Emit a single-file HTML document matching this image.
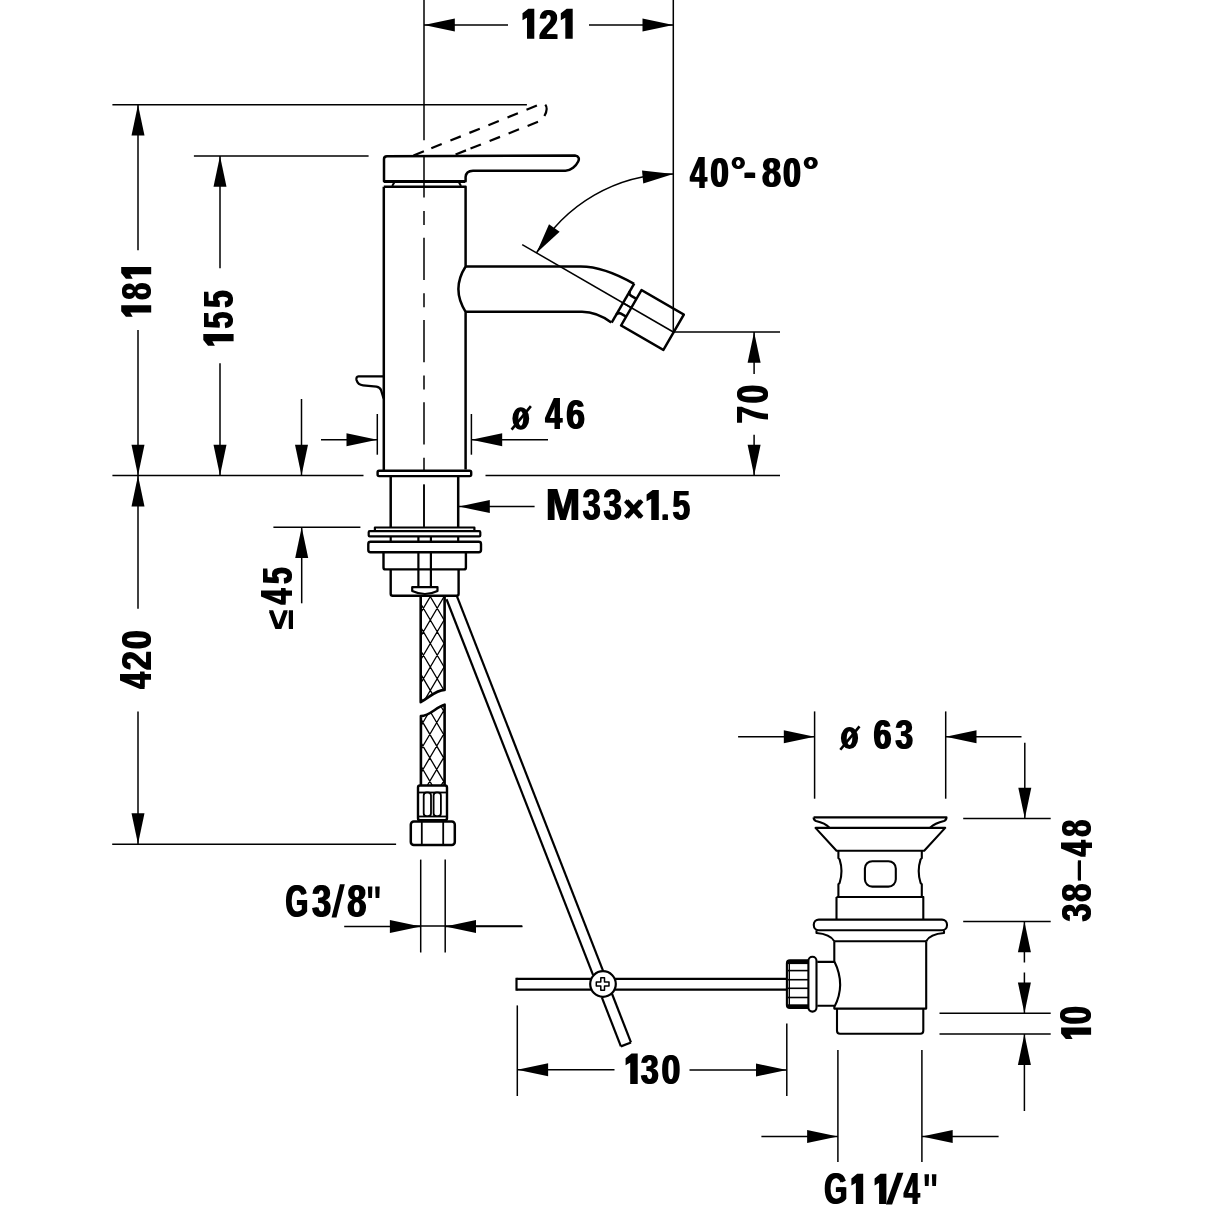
<!DOCTYPE html>
<html><head><meta charset="utf-8"><style>
html,body{margin:0;padding:0;background:#fff;}
svg{display:block;}
text{font-family:"Liberation Sans",sans-serif;font-weight:bold;fill:#000;stroke:none;}
</style></head><body>
<svg width="1214" height="1214" viewBox="0 0 1214 1214" stroke="#000" stroke-linecap="butt" stroke-linejoin="round">
<rect width="1214" height="1214" fill="#fff" stroke="none"/>
<line x1="424" y1="0" x2="424" y2="140.3" stroke-width="1.5"/>
<line x1="673.3" y1="0" x2="673.3" y2="332" stroke-width="1.5"/>
<line x1="424" y1="25" x2="508" y2="25" stroke-width="1.5"/>
<polygon points="424,25 454.8,18.5 454.8,31.5" stroke="none" fill="#000"/>
<line x1="589" y1="25" x2="673.3" y2="25" stroke-width="1.5"/>
<polygon points="673.3,25 642.5,31.5 642.5,18.5" stroke="none" fill="#000"/>
<polygon points="528.6,9.45 533.5,9.45 533.5,37.95 527.79,37.95 527.79,16.29 523.3,18.8 523.3,13.75" fill="#000" stroke="#000" stroke-width="1.6" stroke-linejoin="miter"/>
<polygon points="566.96,9.45 571.9,9.45 571.9,37.95 566.13,37.95 566.13,16.29 561.6,18.8 561.6,13.75" fill="#000" stroke="#000" stroke-width="1.6" stroke-linejoin="miter"/>
<line x1="112.4" y1="104.7" x2="526.9" y2="104.7" stroke-width="1.5"/>
<line x1="193.9" y1="155.9" x2="368.6" y2="155.9" stroke-width="1.5"/>
<line x1="138" y1="104.7" x2="138" y2="250.3" stroke-width="1.5"/>
<polygon points="138,104.7 144.5,135.5 131.5,135.5" stroke="none" fill="#000"/>
<line x1="138" y1="330" x2="138" y2="475.6" stroke-width="1.5"/>
<polygon points="138,475.6 131.5,444.8 144.5,444.8" stroke="none" fill="#000"/>
<polygon points="122,310.85 122,306.1 150.4,306.1 150.4,311.64 128.82,311.64 131.32,316 126.29,316" fill="#000" stroke="#000" stroke-width="1.6" stroke-linejoin="miter"/>
<polygon points="122,272.65 122,267.8 150.4,267.8 150.4,273.46 128.82,273.46 131.32,277.9 126.29,277.9" fill="#000" stroke="#000" stroke-width="1.6" stroke-linejoin="miter"/>
<line x1="220" y1="155.9" x2="220" y2="268.3" stroke-width="1.5"/>
<polygon points="220,155.9 226.5,186.7 213.5,186.7" stroke="none" fill="#000"/>
<line x1="220" y1="363.2" x2="220" y2="475.6" stroke-width="1.5"/>
<polygon points="220,475.6 213.5,444.8 226.5,444.8" stroke="none" fill="#000"/>
<polygon points="204.1,339.7 204.1,334.8 232.8,334.8 232.8,340.51 210.99,340.51 213.51,345 208.43,345" fill="#000" stroke="#000" stroke-width="1.6" stroke-linejoin="miter"/>
<line x1="301.5" y1="399" x2="301.5" y2="475.6" stroke-width="1.5"/>
<polygon points="301.5,475.6 295,444.8 308,444.8" stroke="none" fill="#000"/>
<line x1="112.4" y1="475.6" x2="363.5" y2="475.6" stroke-width="1.5"/>
<line x1="485.5" y1="475.6" x2="780" y2="475.6" stroke-width="1.5"/>
<line x1="138" y1="475.6" x2="138" y2="608.7" stroke-width="1.5"/>
<polygon points="138,475.6 144.5,506.4 131.5,506.4" stroke="none" fill="#000"/>
<line x1="138" y1="711.5" x2="138" y2="844.1" stroke-width="1.5"/>
<polygon points="138,844.1 131.5,813.3 144.5,813.3" stroke="none" fill="#000"/>
<line x1="112.2" y1="844.2" x2="396.1" y2="844.2" stroke-width="1.5"/>
<line x1="273.4" y1="527.2" x2="360.4" y2="527.2" stroke-width="1.5"/>
<line x1="301.7" y1="527.2" x2="301.7" y2="603.3" stroke-width="1.5"/>
<polygon points="301.7,527.2 308.2,558 295.2,558" stroke="none" fill="#000"/>
<line x1="377.3" y1="414" x2="377.3" y2="454.7" stroke-width="1.5"/>
<line x1="471.4" y1="414" x2="471.4" y2="454.7" stroke-width="1.5"/>
<line x1="321" y1="439.8" x2="377.3" y2="439.8" stroke-width="1.5"/>
<polygon points="377.3,439.8 346.5,446.3 346.5,433.3" stroke="none" fill="#000"/>
<line x1="471.4" y1="439.8" x2="548" y2="439.8" stroke-width="1.5"/>
<polygon points="471.4,439.8 502.2,433.3 502.2,446.3" stroke="none" fill="#000"/>
<path d="M512.4,418.5 a8.4,11.2 0 1 0 16.8,0 a8.4,11.2 0 1 0 -16.8,0 Z M518.4,418.5 a2.4,7.3 0 1 0 4.8,0 a2.4,7.3 0 1 0 -4.8,0 Z" fill="#000" fill-rule="evenodd" stroke="none"/>
<line x1="511.6" y1="429.7" x2="530.9" y2="406.2" stroke-width="2.6"/>
<line x1="459" y1="506.6" x2="534.6" y2="506.6" stroke-width="1.5"/>
<polygon points="459,506.6 489.8,500.1 489.8,513.1" stroke="none" fill="#000"/>
<polygon points="652.91,490.7 658,490.7 658,519.1 652.06,519.1 652.06,497.52 647.4,500.02 647.4,494.99" fill="#000" stroke="#000" stroke-width="1.6" stroke-linejoin="miter"/>
<line x1="673.3" y1="332" x2="780" y2="332" stroke-width="1.5"/>
<line x1="754.1" y1="332" x2="754.1" y2="374" stroke-width="1.5"/>
<polygon points="754.1,332 760.6,362.8 747.6,362.8" stroke="none" fill="#000"/>
<line x1="754.1" y1="434.7" x2="754.1" y2="475.5" stroke-width="1.5"/>
<polygon points="754.1,475.5 747.6,444.7 760.6,444.7" stroke="none" fill="#000"/>
<path d="M536.47,253 A158,158 0 0 1 673.3,174" fill="none" stroke-width="1.5"/>
<polygon points="673.3,174 643.25,183.39 642.02,170.45" stroke="none" fill="#000"/>
<polygon points="536.47,253 549.03,224.14 559.62,231.68" stroke="none" fill="#000"/>
<line x1="522.2" y1="244.6" x2="673.3" y2="332" stroke-width="1.5"/>
<g stroke-width="2.2" fill="none">
<line x1="413.5" y1="155.5" x2="423.9" y2="151.29"/>
<line x1="431.3" y1="148.3" x2="441.7" y2="144.09"/>
<line x1="450.4" y1="140.58" x2="460.8" y2="136.37"/>
<line x1="469.4" y1="132.89" x2="479.8" y2="128.69"/>
<line x1="488.4" y1="125.21" x2="498.8" y2="121"/>
<line x1="507.5" y1="117.48" x2="517.9" y2="113.28"/>
<line x1="526.5" y1="109.8" x2="536.9" y2="105.59"/>
<line x1="455.6" y1="154.52" x2="466" y2="150.39"/>
<line x1="470.5" y1="148.6" x2="480.9" y2="144.47"/>
<line x1="489.6" y1="141.01" x2="500" y2="136.87"/>
<line x1="508.6" y1="133.45" x2="519" y2="129.32"/>
<line x1="527.6" y1="125.9" x2="538" y2="121.77"/>
<path d="M545.3,104.6 Q548.6,108.5 544.4,116"/>
</g>
<path d="M384,181.3 L384,159 Q384,156.3 387,156.2 L575,155.5 C579,156 579.5,159 578.2,161.5 C576,166 571,170.7 565.5,170.7 L473,170.8 Q466,171 465.6,177 L465.6,181.3 Z" stroke-width="2.5" fill="none" />
<line x1="384" y1="181.6" x2="465" y2="181.6" stroke-width="2.8"/>
<path d="M394.5,182 L392.2,186 M458.8,182 L461,186" stroke-width="2" fill="none" />
<path d="M383.8,186.7 L465.6,186.7 L465.6,266.5 Q451.2,289 465.6,311.8 L465.6,469.5 M383.8,186.7 L383.8,470" stroke-width="2.5" fill="none" />
<path d="M383.7,376.3 L358.5,376.3 Q356,376.5 356.5,380 Q358,385 363,385.3 L376.5,386.7 Q380,387.5 381,390 L383.6,398.5" stroke-width="2.3" fill="none" />
<path d="M465.6,266.5 L580.7,266.5 Q603.9,266.5 634.1,283.9" stroke-width="2.5" fill="none" />
<path d="M465.6,311.8 L582,311.8 Q597,311.8 611.3,322.6" stroke-width="2.5" fill="none" />
<g transform="translate(673.3,332) rotate(30)" fill="none" stroke-width="2.5">
<line x1="-58" y1="-22.3" x2="-58" y2="22.8"/>
<rect x="-48.5" y="-20.4" width="48.9" height="40.9"/>
<path d="M-58,-13.3 Q-57.5,-10.3 -54.5,-10.3 L-48.5,-10.3 M-58,13.3 Q-57.5,10.3 -54.5,10.3 L-48.5,10.3" />
<line x1="-58" y1="0" x2="-48.5" y2="0" stroke-width="1.8"/>
</g>
<line x1="424" y1="155.4" x2="424" y2="527.2" stroke-width="1.5" stroke-dasharray="42.2 13.3 14 12.8"/>
<rect x="377.6" y="470.7" width="93.6" height="5.4" rx="1.5" fill="#fff" stroke-width="2.4"/>
<path d="M390.7,477 L390.7,527.4 M458.2,477 L458.2,527.4" stroke-width="2.5" fill="none" />
<line x1="424" y1="484.4" x2="424" y2="527.2" stroke-width="1.5"/>
<rect x="374.9" y="527.5" width="99.5" height="3.7" fill="#fff" stroke-width="2.2"/>
<rect x="368.7" y="531.2" width="111.6" height="5.2" rx="1" fill="#fff" stroke-width="2.2"/>
<path d="M390.7,536.4 L390.7,541.7 M458.2,536.4 L458.2,541.7 M418.4,536.4 L418.4,541.7 M430.9,536.4 L430.9,541.7" stroke-width="2.2" fill="none" />
<rect x="368.3" y="541.7" width="112.7" height="10.5" rx="2.2" fill="#fff" stroke-width="2.4"/>
<path d="M383.5,552.2 L383.5,567.4 Q383.5,569.4 385.5,569.4 L463.9,569.4 Q465.9,569.4 465.9,567.4 L465.9,552.2" stroke-width="2.4" fill="none" />
<path d="M390.7,569.4 L390.7,593.7 Q390.7,595.7 392.7,595.7 L456.6,595.7 Q458.6,595.7 458.6,593.7 L458.6,569.4" stroke-width="2.4" fill="none" />
<path d="M418.4,552.2 L418.4,587.2 M430.9,552.2 L430.9,587.2" stroke-width="2.2" fill="none" />
<path d="M412.2,587.2 L437.5,587.2 L437.5,591 Q425,597 412.2,591 Z" stroke-width="2.2" fill="#fff" />
<defs><clipPath id="hu"><path d="M420.7,596 L444.6,596 L444.6,689.9 C436,690 430,697 420.9,702.2 Z"/></clipPath><clipPath id="hl"><path d="M420.9,716.1 C430,716 436,707 444.6,704.7 L444.6,785.5 L420.9,785.5 Z"/></clipPath></defs>
<path clip-path="url(#hu)" d="M150.44,590 L221.02,710 M171.96,590 L101.38,710 M164.24,590 L234.82,710 M185.76,590 L115.18,710 M178.04,590 L248.62,710 M199.56,590 L128.98,710 M191.84,590 L262.42,710 M213.36,590 L142.78,710 M205.64,590 L276.22,710 M227.16,590 L156.58,710 M219.44,590 L290.02,710 M240.96,590 L170.38,710 M233.24,590 L303.82,710 M254.76,590 L184.18,710 M247.04,590 L317.62,710 M268.56,590 L197.98,710 M260.84,590 L331.42,710 M282.36,590 L211.78,710 M274.64,590 L345.22,710 M296.16,590 L225.58,710 M288.44,590 L359.02,710 M309.96,590 L239.38,710 M302.24,590 L372.82,710 M323.76,590 L253.18,710 M316.04,590 L386.62,710 M337.56,590 L266.98,710 M329.84,590 L400.42,710 M351.36,590 L280.78,710 M343.64,590 L414.22,710 M365.16,590 L294.58,710 M357.44,590 L428.02,710 M378.96,590 L308.38,710 M371.24,590 L441.82,710 M392.76,590 L322.18,710 M385.04,590 L455.62,710 M406.56,590 L335.98,710 M398.84,590 L469.42,710 M420.36,590 L349.78,710 M412.64,590 L483.22,710 M434.16,590 L363.58,710 M426.44,590 L497.02,710 M447.96,590 L377.38,710 M440.24,590 L510.82,710 M461.76,590 L391.18,710 M454.04,590 L524.62,710 M475.56,590 L404.98,710 M467.84,590 L538.42,710 M489.36,590 L418.78,710 M481.64,590 L552.22,710 M503.16,590 L432.58,710 M495.44,590 L566.02,710 M516.96,590 L446.38,710 M509.24,590 L579.82,710 M530.76,590 L460.18,710 M523.04,590 L593.62,710 M544.56,590 L473.98,710 M536.84,590 L607.42,710 M558.36,590 L487.78,710 M550.64,590 L621.22,710 M572.16,590 L501.58,710 M564.44,590 L635.02,710 M585.96,590 L515.38,710 M578.24,590 L648.82,710 M599.76,590 L529.18,710 M592.04,590 L662.62,710 M613.56,590 L542.98,710 M605.84,590 L676.42,710 M627.36,590 L556.78,710 M619.64,590 L690.22,710 M641.16,590 L570.58,710 M633.44,590 L704.02,710 M654.96,590 L584.38,710 M647.24,590 L717.82,710 M668.76,590 L598.18,710 M661.04,590 L731.62,710 M682.56,590 L611.98,710 M674.84,590 L745.42,710 M696.36,590 L625.78,710 M688.64,590 L759.22,710 M710.16,590 L639.58,710" stroke-width="1.3" fill="none"/>
<path clip-path="url(#hl)" d="M133.62,700 L186.56,790 M173.98,700 L121.04,790 M147.42,700 L200.36,790 M187.78,700 L134.84,790 M161.22,700 L214.16,790 M201.58,700 L148.64,790 M175.02,700 L227.96,790 M215.38,700 L162.44,790 M188.82,700 L241.76,790 M229.18,700 L176.24,790 M202.62,700 L255.56,790 M242.98,700 L190.04,790 M216.42,700 L269.36,790 M256.78,700 L203.84,790 M230.22,700 L283.16,790 M270.58,700 L217.64,790 M244.02,700 L296.96,790 M284.38,700 L231.44,790 M257.82,700 L310.76,790 M298.18,700 L245.24,790 M271.62,700 L324.56,790 M311.98,700 L259.04,790 M285.42,700 L338.36,790 M325.78,700 L272.84,790 M299.22,700 L352.16,790 M339.58,700 L286.64,790 M313.02,700 L365.96,790 M353.38,700 L300.44,790 M326.82,700 L379.76,790 M367.18,700 L314.24,790 M340.62,700 L393.56,790 M380.98,700 L328.04,790 M354.42,700 L407.36,790 M394.78,700 L341.84,790 M368.22,700 L421.16,790 M408.58,700 L355.64,790 M382.02,700 L434.96,790 M422.38,700 L369.44,790 M395.82,700 L448.76,790 M436.18,700 L383.24,790 M409.62,700 L462.56,790 M449.98,700 L397.04,790 M423.42,700 L476.36,790 M463.78,700 L410.84,790 M437.22,700 L490.16,790 M477.58,700 L424.64,790 M451.02,700 L503.96,790 M491.38,700 L438.44,790 M464.82,700 L517.76,790 M505.18,700 L452.24,790 M478.62,700 L531.56,790 M518.98,700 L466.04,790 M492.42,700 L545.36,790 M532.78,700 L479.84,790 M506.22,700 L559.16,790 M546.58,700 L493.64,790 M520.02,700 L572.96,790 M560.38,700 L507.44,790 M533.82,700 L586.76,790 M574.18,700 L521.24,790 M547.62,700 L600.56,790 M587.98,700 L535.04,790 M561.42,700 L614.36,790 M601.78,700 L548.84,790 M575.22,700 L628.16,790 M615.58,700 L562.64,790 M589.02,700 L641.96,790 M629.38,700 L576.44,790 M602.82,700 L655.76,790 M643.18,700 L590.24,790 M616.62,700 L669.56,790 M656.98,700 L604.04,790 M630.42,700 L683.36,790 M670.78,700 L617.84,790 M644.22,700 L697.16,790 M684.58,700 L631.64,790 M658.02,700 L710.96,790 M698.38,700 L645.44,790 M671.82,700 L724.76,790 M712.18,700 L659.24,790" stroke-width="1.3" fill="none"/>
<path d="M420.7,596 L420.7,702.2 C430,697 436,690 444.6,689.9 L444.6,596" stroke-width="2.6" fill="none" />
<path d="M420.9,785.5 L420.9,716.1 C430,716 436,707 444.6,704.7 L444.6,785.5" stroke-width="2.6" fill="none" />
<rect x="418" y="785.5" width="29" height="34.7" rx="2" fill="#fff" stroke-width="2.4"/>
<line x1="418.5" y1="792.5" x2="446.5" y2="792.5" stroke-width="1.8"/>
<line x1="418.5" y1="816.5" x2="446.5" y2="816.5" stroke-width="1.8"/>
<rect x="423.7" y="792.5" width="7.3" height="23.7" rx="3" fill="#fff" stroke-width="1.8"/>
<rect x="433.6" y="792.5" width="7.3" height="23.7" rx="3" fill="#fff" stroke-width="1.8"/>
<rect x="410.8" y="821.5" width="44" height="23.5" rx="3" fill="#fff" stroke-width="2.5"/>
<line x1="421.8" y1="821.5" x2="421.8" y2="845" stroke-width="1.8"/>
<line x1="443.2" y1="821.5" x2="443.2" y2="845" stroke-width="1.8"/>
<line x1="420.7" y1="859.6" x2="420.7" y2="952.5" stroke-width="1.5"/>
<line x1="445.2" y1="859.6" x2="445.2" y2="952.5" stroke-width="1.5"/>
<line x1="344.2" y1="926.5" x2="420.7" y2="926.5" stroke-width="1.5"/>
<polygon points="420.7,926.5 389.9,933 389.9,920" stroke="none" fill="#000"/>
<line x1="445.2" y1="926.5" x2="522.5" y2="926.5" stroke-width="1.5"/>
<polygon points="445.2,926.5 476,920 476,933" stroke="none" fill="#000"/>
<polygon points="331.6,917.4 336.48,917.4 344.8,884.3 339.92,884.3" fill="#000" stroke="none"/>
<polygon points="367.9,886.6 372.38,886.6 371.98,897.9 368.3,897.9" fill="#000" stroke="none"/>
<polygon points="375.22,886.6 379.7,886.6 379.3,897.9 375.62,897.9" fill="#000" stroke="none"/>
<line x1="456.59" y1="595.34" x2="603.17" y2="971.16" stroke-width="2.2"/>
<line x1="611.89" y1="993.52" x2="630.97" y2="1042.43" stroke-width="2.2"/>
<line x1="446.52" y1="599.26" x2="593.11" y2="975.08" stroke-width="2.2"/>
<line x1="601.83" y1="997.44" x2="620.91" y2="1046.36" stroke-width="2.2"/>
<line x1="630.97" y1="1042.43" x2="620.91" y2="1046.36" stroke-width="2.2"/>
<line x1="516.5" y1="978.9" x2="787" y2="978.9" stroke-width="2.2"/>
<line x1="516.5" y1="989.6" x2="787" y2="989.6" stroke-width="2.2"/>
<line x1="516.5" y1="977.8" x2="516.5" y2="990.7" stroke-width="2.2"/>
<circle cx="603" cy="984" r="12.8" fill="#fff" stroke-width="2.2"/>
<path d="M600.8,977.8 L604.5,977.8 L604.5,982 L609,982 L609,986 L604.5,986 L604.5,990.2 L600.8,990.2 L600.8,986 L596.3,986 L596.3,982 L600.8,982 Z" fill="none" stroke-width="1.5"/>
<line x1="517.3" y1="1005.4" x2="517.3" y2="1096" stroke-width="1.5"/>
<line x1="517.3" y1="1069.7" x2="614.5" y2="1069.7" stroke-width="1.5"/>
<polygon points="517.3,1069.7 548.1,1063.2 548.1,1076.2" stroke="none" fill="#000"/>
<line x1="689.5" y1="1070" x2="786.8" y2="1070" stroke-width="1.5"/>
<polygon points="786.8,1070 756,1076.5 756,1063.5" stroke="none" fill="#000"/>
<line x1="786.8" y1="1023.6" x2="786.8" y2="1096" stroke-width="1.5"/>
<polygon points="631.86,1054.3 636.9,1054.3 636.9,1083.2 631.02,1083.2 631.02,1061.24 626.4,1063.78 626.4,1058.66" fill="#000" stroke="#000" stroke-width="1.6" stroke-linejoin="miter"/>
<line x1="396" y1="926" x2="522.2" y2="926" stroke-width="1.5"/>
<g fill="none" stroke-width="2.1">
<path d="M813.6,817.4 L946.5,817.4 Q946.5,820 944,821 Q935,823 929.8,827.9 M813.6,817.4 Q813.6,820 816,821 Q825,823 829.7,827.9"/>
<path d="M815.5,827.9 L945.2,827.9 L924.2,850.7 L836.5,850.7 Z"/>
<path d="M838.4,850.7 L838.4,858.1 L839.6,859.4 Q843.4,871.3 839.6,883 L838.4,884.2 L838.4,897 M921.8,850.7 L921.8,858.1 L920.6,859.4 Q916.8,871.3 920.6,883 L921.8,884.2 L921.8,897"/>
<rect x="864.9" y="861.2" width="30.9" height="25.4" rx="7.4"/>
<path d="M836.5,897 L924.2,897 M836.5,897 L836.5,919.6 M923.3,897 L923.3,919.6"/>
<rect x="813.8" y="919.6" width="133.2" height="10.6" rx="5" fill="#fff"/>
<path d="M816.5,930.2 L816.5,933 Q830,934 834.3,941.2 M944,930.2 L944,933 Q930,934 926.2,941.2"/>
<path d="M834.3,941.2 L926.2,941.2"/>
<path d="M834.3,941.2 L834.3,961.2 Q846,984.9 834.3,1007.1 L834.3,1008.6 L926.2,1008.6 L926.2,941.2"/>
<path d="M837,1008.6 L837,1030.8 Q837,1033.8 840,1033.8 L920.3,1033.8 Q923.3,1033.8 923.3,1030.8 L923.3,1008.6"/>
<path d="M834.3,961.9 L817.3,961.9 M834.3,1005.7 L817.3,1005.7"/>
<rect x="808.4" y="956.7" width="8.1" height="54.9" rx="4" fill="#fff"/>
<path d="M808.4,960.4 L789.9,960.4 Q786.9,960.4 786.9,963.4 L786.9,1004.9 Q786.9,1007.9 789.9,1007.9 L808.4,1007.9"/>
</g>
<line x1="788" y1="970.6" x2="808.4" y2="970.6" stroke-width="1.6"/>
<line x1="788" y1="979.7" x2="808.4" y2="979.7" stroke-width="1.6"/>
<line x1="788" y1="988.3" x2="808.4" y2="988.3" stroke-width="1.6"/>
<line x1="788" y1="997.5" x2="808.4" y2="997.5" stroke-width="1.6"/>
<rect x="787.5" y="960.5" width="20.9" height="3.6" fill="#000" stroke="none"/>
<rect x="787.5" y="1004.3" width="20.9" height="3.6" fill="#000" stroke="none"/>
<line x1="789.3" y1="961" x2="789.3" y2="1007" stroke-width="1.4"/>
<line x1="814.6" y1="711.4" x2="814.6" y2="798.7" stroke-width="1.5"/>
<line x1="945.7" y1="711.4" x2="945.7" y2="798.7" stroke-width="1.5"/>
<line x1="738.1" y1="736.8" x2="814.6" y2="736.8" stroke-width="1.5"/>
<polygon points="814.6,736.8 783.8,743.3 783.8,730.3" stroke="none" fill="#000"/>
<line x1="945.7" y1="736.8" x2="1021.5" y2="736.8" stroke-width="1.5"/>
<polygon points="945.7,736.8 976.5,730.3 976.5,743.3" stroke="none" fill="#000"/>
<path d="M840.9,738.1 a8.6,11 0 1 0 17.2,0 a8.6,11 0 1 0 -17.2,0 Z M846.7,738.1 a2.8,6.9 0 1 0 5.6,0 a2.8,6.9 0 1 0 -5.6,0 Z" fill="#000" fill-rule="evenodd" stroke="none"/>
<line x1="840.3" y1="749.8" x2="859.5" y2="726.4" stroke-width="2.6"/>
<line x1="1024.8" y1="742.7" x2="1024.8" y2="818.5" stroke-width="1.5"/>
<polygon points="1024.8,818.5 1018.3,787.7 1031.3,787.7" stroke="none" fill="#000"/>
<line x1="963.2" y1="818.5" x2="1050.7" y2="818.5" stroke-width="1.5"/>
<line x1="963.2" y1="921.4" x2="1050.7" y2="921.4" stroke-width="1.5"/>
<line x1="1024.4" y1="921.4" x2="1024.4" y2="962.5" stroke-width="1.5"/>
<polygon points="1024.4,921.4 1030.9,952.2 1017.9,952.2" stroke="none" fill="#000"/>
<line x1="1024.4" y1="972.5" x2="1024.4" y2="1013.3" stroke-width="1.5"/>
<polygon points="1024.4,1013.3 1017.9,982.5 1030.9,982.5" stroke="none" fill="#000"/>
<line x1="939.5" y1="1013.3" x2="1050.7" y2="1013.3" stroke-width="1.5"/>
<line x1="939.5" y1="1034.1" x2="1050.7" y2="1034.1" stroke-width="1.5"/>
<line x1="1024.4" y1="1034.1" x2="1024.4" y2="1111" stroke-width="1.5"/>
<polygon points="1024.4,1034.1 1030.9,1064.9 1017.9,1064.9" stroke="none" fill="#000"/>
<polygon points="1061.9,1033.15 1061.9,1028.4 1090.3,1028.4 1090.3,1033.94 1068.72,1033.94 1071.22,1038.3 1066.19,1038.3" fill="#000" stroke="#000" stroke-width="1.6" stroke-linejoin="miter"/>
<line x1="837.9" y1="1049.9" x2="837.9" y2="1162" stroke-width="1.5"/>
<line x1="921.9" y1="1049.9" x2="921.9" y2="1162" stroke-width="1.5"/>
<line x1="761.4" y1="1136.6" x2="837.9" y2="1136.6" stroke-width="1.5"/>
<polygon points="837.9,1136.6 807.1,1143.1 807.1,1130.1" stroke="none" fill="#000"/>
<line x1="921.9" y1="1136.6" x2="998.6" y2="1136.6" stroke-width="1.5"/>
<polygon points="921.9,1136.6 952.7,1130.1 952.7,1143.1" stroke="none" fill="#000"/>
<polygon points="857.5,1174.6 862.4,1174.6 862.4,1203.3 856.69,1203.3 856.69,1181.49 852.2,1184.01 852.2,1178.93" fill="#000" stroke="#000" stroke-width="1.6" stroke-linejoin="miter"/>
<polygon points="880.7,1174.6 885.6,1174.6 885.6,1203.3 879.89,1203.3 879.89,1181.49 875.4,1184.01 875.4,1178.93" fill="#000" stroke="#000" stroke-width="1.6" stroke-linejoin="miter"/>
<polygon points="885.9,1204.6 892.1,1204.6 903.4,1172.7 897.2,1172.7" fill="#000" stroke="none"/>
<polygon points="924.5,1174.3 929.02,1174.3 928.62,1186.1 924.9,1186.1" fill="#000" stroke="none"/>
<polygon points="931.88,1174.3 936.4,1174.3 936,1186.1 932.28,1186.1" fill="#000" stroke="none"/>
<defs><filter id="gs" x="0" y="0" width="1214" height="1214" filterUnits="userSpaceOnUse"><feOffset dx="0" dy="0"/></filter></defs>
<g filter="url(#gs)"><text transform="matrix(0.33958,0,0,0.43000,538.311,38.750)" font-size="100">2</text>
<text transform="matrix(0.33958,0,0,0.43000,539.911,38.750)" font-size="100">2</text>
<text transform="matrix(0,-0.30303,0.42254,0,150.777,298.909)" font-size="100">8</text>
<text transform="matrix(0,-0.30303,0.42254,0,150.777,300.509)" font-size="100">8</text>
<text transform="matrix(0,-0.30000,0.43286,0,233.167,327.700)" font-size="100">5</text>
<text transform="matrix(0,-0.30000,0.43286,0,233.167,329.300)" font-size="100">5</text>
<text transform="matrix(0,-0.30600,0.43286,0,233.167,306.818)" font-size="100">5</text>
<text transform="matrix(0,-0.30600,0.43286,0,233.167,308.418)" font-size="100">5</text>
<text transform="matrix(0,-0.29720,0.43913,0,151.400,687.846)" font-size="100">4</text>
<text transform="matrix(0,-0.29720,0.43913,0,151.400,689.446)" font-size="100">4</text>
<text transform="matrix(0,-0.33958,0.43286,0,151.400,669.289)" font-size="100">2</text>
<text transform="matrix(0,-0.33958,0.43286,0,151.400,670.889)" font-size="100">2</text>
<text transform="matrix(0,-0.33053,0.42676,0,150.973,648.122)" font-size="100">0</text>
<text transform="matrix(0,-0.33053,0.42676,0,150.973,649.722)" font-size="100">0</text>
<text transform="matrix(0,-0.34400,0.37953,0,293.300,628.160)" font-size="100">≤</text>
<text transform="matrix(0,-0.34400,0.37953,0,293.300,629.760)" font-size="100">≤</text>
<text transform="matrix(0,-0.28785,0.43478,0,291.800,603.632)" font-size="100">4</text>
<text transform="matrix(0,-0.28785,0.43478,0,291.800,605.232)" font-size="100">4</text>
<text transform="matrix(0,-0.29600,0.43286,0,291.667,583.088)" font-size="100">5</text>
<text transform="matrix(0,-0.29600,0.43286,0,291.667,584.688)" font-size="100">5</text>
<text transform="matrix(0.30467,0,0,0.43623,544.443,429.300)" font-size="100">4</text>
<text transform="matrix(0.30467,0,0,0.43623,546.043,429.300)" font-size="100">4</text>
<text transform="matrix(0.33608,0,0,0.42676,565.424,429.073)" font-size="100">6</text>
<text transform="matrix(0.33608,0,0,0.42676,567.024,429.073)" font-size="100">6</text>
<text transform="matrix(0.41429,0,0,0.44928,544.907,519.900)" font-size="100">M</text>
<text transform="matrix(0.41429,0,0,0.44928,546.507,519.900)" font-size="100">M</text>
<text transform="matrix(0.32121,0,0,0.43521,581.997,519.865)" font-size="100">3</text>
<text transform="matrix(0.32121,0,0,0.43521,583.597,519.865)" font-size="100">3</text>
<text transform="matrix(0.32525,0,0,0.43521,602.787,519.865)" font-size="100">3</text>
<text transform="matrix(0.32525,0,0,0.43521,604.387,519.865)" font-size="100">3</text>
<text transform="matrix(0.35354,0,0,0.38200,622.609,522.147)" font-size="100">×</text>
<text transform="matrix(0.35354,0,0,0.38200,624.209,522.147)" font-size="100">×</text>
<text transform="matrix(0.28571,0,0,0.37333,660.400,519.900)" font-size="100">.</text>
<text transform="matrix(0.28571,0,0,0.37333,662.000,519.900)" font-size="100">.</text>
<text transform="matrix(0.31600,0,0,0.43000,671.752,519.770)" font-size="100">5</text>
<text transform="matrix(0.31600,0,0,0.43000,673.352,519.770)" font-size="100">5</text>
<text transform="matrix(0,-0.30968,0.43913,0,767.900,422.394)" font-size="100">7</text>
<text transform="matrix(0,-0.30968,0.43913,0,767.900,423.994)" font-size="100">7</text>
<text transform="matrix(0,-0.32842,0.43521,0,767.665,402.514)" font-size="100">0</text>
<text transform="matrix(0,-0.32842,0.43521,0,767.665,404.114)" font-size="100">0</text>
<text transform="matrix(0.30467,0,0,0.44348,689.143,187.500)" font-size="100">4</text>
<text transform="matrix(0.30467,0,0,0.44348,690.743,187.500)" font-size="100">4</text>
<text transform="matrix(0.33053,0,0,0.43099,709.578,187.069)" font-size="100">0</text>
<text transform="matrix(0.33053,0,0,0.43099,711.178,187.069)" font-size="100">0</text>
<text transform="matrix(0.33939,0,0,0.43099,761.282,187.069)" font-size="100">8</text>
<text transform="matrix(0.33939,0,0,0.43099,762.882,187.069)" font-size="100">8</text>
<text transform="matrix(0.31789,0,0,0.43099,782.328,187.069)" font-size="100">0</text>
<text transform="matrix(0.31789,0,0,0.43099,783.928,187.069)" font-size="100">0</text>
<text transform="matrix(0.37742,0,0,0.39672,730.002,184.472)" font-size="100">°</text>
<text transform="matrix(0.37742,0,0,0.39672,731.602,184.472)" font-size="100">°</text>
<text transform="matrix(0.39355,0,0,0.39672,802.029,184.472)" font-size="100">°</text>
<text transform="matrix(0.39355,0,0,0.39672,803.629,184.472)" font-size="100">°</text>
<text transform="matrix(0.36471,0,0,0.44167,742.941,187.133)" font-size="100">-</text>
<text transform="matrix(0.36471,0,0,0.44167,744.541,187.133)" font-size="100">-</text>
<text transform="matrix(0.29185,0,0,0.46338,284.733,916.737)" font-size="100">G</text>
<text transform="matrix(0.29185,0,0,0.46338,286.333,916.737)" font-size="100">G</text>
<text transform="matrix(0.34141,0,0,0.45352,311.346,916.546)" font-size="100">3</text>
<text transform="matrix(0.34141,0,0,0.45352,312.946,916.546)" font-size="100">3</text>
<text transform="matrix(0.34343,0,0,0.45352,346.470,916.546)" font-size="100">8</text>
<text transform="matrix(0.34343,0,0,0.45352,348.070,916.546)" font-size="100">8</text>
<text transform="matrix(0.31919,0,0,0.42958,640.102,1083.570)" font-size="100">3</text>
<text transform="matrix(0.31919,0,0,0.42958,641.702,1083.570)" font-size="100">3</text>
<text transform="matrix(0.33895,0,0,0.42958,660.644,1083.570)" font-size="100">0</text>
<text transform="matrix(0.33895,0,0,0.42958,662.244,1083.570)" font-size="100">0</text>
<text transform="matrix(0.31959,0,0,0.42394,872.781,748.676)" font-size="100">6</text>
<text transform="matrix(0.31959,0,0,0.42394,874.381,748.676)" font-size="100">6</text>
<text transform="matrix(0.32121,0,0,0.42394,894.397,748.676)" font-size="100">3</text>
<text transform="matrix(0.32121,0,0,0.42394,895.997,748.676)" font-size="100">3</text>
<text transform="matrix(0,-0.31515,0.43380,0,1091.266,920.588)" font-size="100">3</text>
<text transform="matrix(0,-0.31515,0.43380,0,1091.266,922.188)" font-size="100">3</text>
<text transform="matrix(0,-0.32525,0.43380,0,1091.266,900.876)" font-size="100">8</text>
<text transform="matrix(0,-0.32525,0.43380,0,1091.266,902.476)" font-size="100">8</text>
<text transform="matrix(0,-0.28411,0.44638,0,1091.700,855.526)" font-size="100">4</text>
<text transform="matrix(0,-0.28411,0.44638,0,1091.700,857.126)" font-size="100">4</text>
<text transform="matrix(0,-0.30505,0.43380,0,1091.266,836.015)" font-size="100">8</text>
<text transform="matrix(0,-0.30505,0.43380,0,1091.266,837.615)" font-size="100">8</text>
<text transform="matrix(0,-0.37980,0.32000,0,1088.340,880.239)" font-size="100">–</text>
<text transform="matrix(0,-0.37980,0.32000,0,1088.340,881.839)" font-size="100">–</text>
<text transform="matrix(0,-0.32421,0.43803,0,1091.262,1023.397)" font-size="100">0</text>
<text transform="matrix(0,-0.32421,0.43803,0,1091.262,1024.997)" font-size="100">0</text>
<text transform="matrix(0.29778,0,0,0.44930,823.409,1204.151)" font-size="100">G</text>
<text transform="matrix(0.29778,0,0,0.44930,825.009,1204.151)" font-size="100">G</text>
<text transform="matrix(0.28785,0,0,0.43913,902.968,1204.100)" font-size="100">4</text>
<text transform="matrix(0.28785,0,0,0.43913,904.568,1204.100)" font-size="100">4</text></g>
</svg></body></html>
